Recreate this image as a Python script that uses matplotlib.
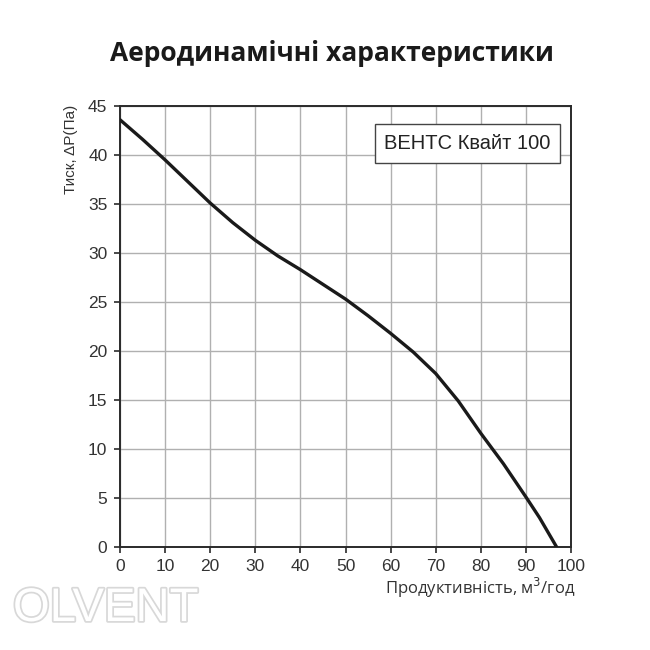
import matplotlib
matplotlib.use('Agg')
import matplotlib.pyplot as plt
import matplotlib.patheffects as pe

# curve (flow m3/h, pressure Pa)
flow = [0, 5, 10, 15, 20, 25, 30, 35, 40, 45, 50, 55, 60, 65, 70, 75, 80, 85, 90, 93, 96.8]
pressure = [43.6, 41.6, 39.5, 37.3, 35.1, 33.1, 31.3, 29.7, 28.3, 26.8, 25.3, 23.6, 21.8,
            19.9, 17.7, 14.9, 11.6, 8.5, 5.1, 3.0, 0.0]

x_ticks = list(range(0, 101, 10))
y_ticks = list(range(0, 46, 5))

title = 'Аеродинамічні характеристики'
model = 'ВЕНТС Квайт 100'
xlabel = 'Продуктивність, м$^3$/год'
ylabel = 'Тиск, ΔP(Па)'

fig = plt.figure(figsize=(6.5, 6.5), dpi=100)
ax = fig.add_axes([0.1846, 0.1585, 0.6939, 0.6784])

ax.plot(flow, pressure, color='#1a1a1a', lw=2.4, solid_capstyle='round', zorder=3)

ax.set_xlim(0, 100)
ax.set_ylim(0, 45)
ax.set_xticks(x_ticks)
ax.set_yticks(y_ticks)
ax.grid(True, color='#b0b0b0', lw=1.0)
ax.set_axisbelow(True)
for s in ax.spines.values():
    s.set_color('#2a2a2a')
    s.set_linewidth(1.4)
ax.tick_params(direction='out', length=4, width=1.2, color='#2a2a2a',
               labelsize=12.5, labelcolor='#333333', pad=5)
for lab in ax.get_xticklabels() + ax.get_yticklabels():
    lab.set_fontfamily('Liberation Sans')

ax.text(0.955, 0.915, model, transform=ax.transAxes, ha='right', va='center',
        fontsize=14.5, family='Liberation Sans', color='#222222',
        bbox=dict(boxstyle='square,pad=0.48', fc='white', ec='#444444', lw=1.0))

fig.text(0.511, 0.918, title, ha='center', va='center', fontsize=19,
         fontweight='bold', family='Open Sans', color='#1a1a1a')
fig.text(0.885, 0.095, xlabel, ha='right', va='center', fontsize=12,
         family='Open Sans', color='#333333')
fig.text(0.11, 0.77, ylabel, ha='center', va='center', rotation=90,
         fontsize=11, family='Liberation Sans', color='#333333')

# faint watermark
fig.text(0.02, 0.063, 'OLVENT', ha='left', va='center', fontsize=34,
         family='Liberation Sans', color='white',
         path_effects=[pe.withStroke(linewidth=2.5, foreground='#d8d8d8')])

fig.savefig('out.png', dpi=100, facecolor='white')
